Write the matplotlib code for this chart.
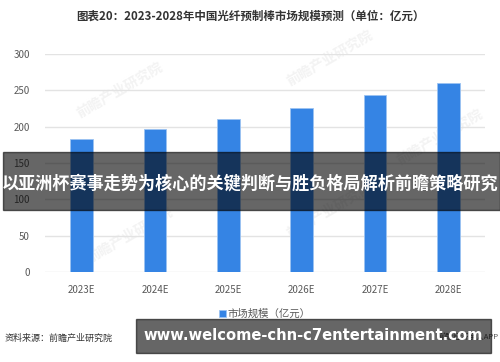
import numpy as np
import matplotlib.pyplot as plt

plt.rcParams['font.family'] = ['Noto Sans CJK SC', 'DejaVu Sans']

years = ["2023E", "2024E", "2025E", "2026E", "2027E", "2028E"]
market_size = [183, 197, 210, 226, 243, 260]
y_ticks = [0, 50, 100, 150, 200, 250, 300]

title = "图表20：2023-2028年中国光纤预制棒市场规模预测（单位：亿元）"
legend_label = "市场规模（亿元）"
source = "资料来源：前瞻产业研究院"
banner = "以亚洲杯赛事走势为核心的关键判断与胜负格局解析前瞻策略研究"
url = "www.welcome-chn-c7entertainment.com"

fig = plt.figure(figsize=(5, 3.62), dpi=100)
ax = fig.add_axes([0.09, 0.2486, 0.88, 0.6024])
ax.patch.set_visible(False)

x = np.arange(len(years))
ax.bar(x, market_size, width=0.31, color="#3584e4", edgecolor="#9cc3f2",
       linewidth=0.6, zorder=3, label=legend_label)
ax.set_xlim(-0.5, len(years) - 0.5)
ax.set_ylim(0, 300)
ax.set_yticks(y_ticks)
ax.set_xticks(x)
ax.set_xticklabels(years)
ax.tick_params(axis="both", length=0, labelsize=7, colors="#595959")
ax.tick_params(axis="x", pad=9)
ax.tick_params(axis="y", pad=11)
ax.grid(axis="y", color="#e3e3e3", linewidth=1, zorder=0)
for s in ax.spines.values():
    s.set_visible(False)

# faint watermarks behind the chart
for wx, wy in [(0.24, 0.75), (0.66, 0.84), (0.26, 0.35), (0.66, 0.42), (0.88, 0.62)]:
    fig.text(wx, wy, "前瞻产业研究院", fontsize=10, color="#f3f3f3", rotation=30,
             ha="center", va="center", fontweight="bold", zorder=-1)

fig.text(0.5, 0.955, title, ha="center", va="center", fontsize=8.3,
         fontweight="bold", color="#333333")

leg = ax.legend(loc="upper center", bbox_to_anchor=(0.5, -0.15), frameon=False,
                fontsize=7.5, handlelength=0.6, handleheight=0.6, handletextpad=0.2,
                borderaxespad=0)
for t in leg.get_texts():
    t.set_color("#595959")

fig.text(0.01, 0.066, source, ha="left", va="center", fontsize=6.5, color="#333333")
fig.text(0.998, 0.07, "前瞻经济学人APP", ha="right", va="center", fontsize=5.5,
         color="#555555", zorder=1)

# overlay banners
fig.patches.append(plt.Rectangle((0.006, 1 - 210 / 362), 0.994, 58 / 362,
                                 transform=fig.transFigure, color="black",
                                 alpha=0.6, zorder=10))
fig.text(0.5, 1 - 184 / 362, banner, ha="center", va="center", fontsize=12.3,
         fontweight="bold", color="white", zorder=11)

fig.patches.append(plt.Rectangle((136 / 500, 1 - 353 / 362), 355 / 500, 34 / 362,
                                 transform=fig.transFigure, color="black",
                                 alpha=0.6, zorder=10))
fig.text(313 / 500, 1 - 336 / 362, url, ha="center", va="center", fontsize=10.6,
         fontweight="bold", color="white", zorder=11, family="DejaVu Sans")

fig.savefig("out.png", dpi=100)
